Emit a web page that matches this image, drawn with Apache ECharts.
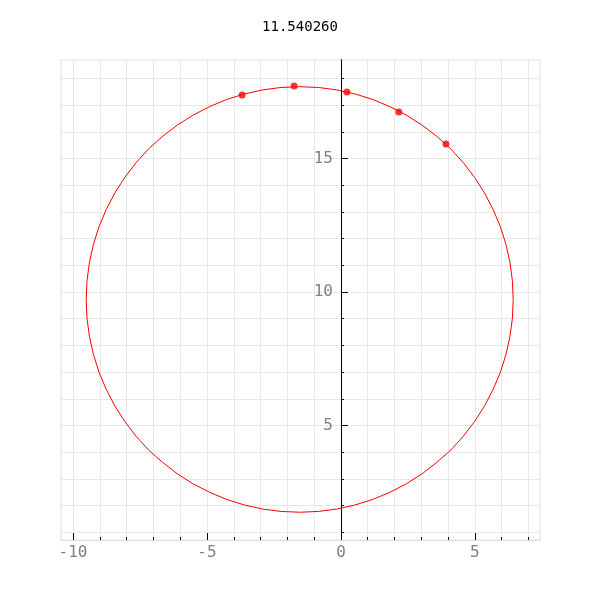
<!DOCTYPE html>
<html>
<head>
<meta charset="utf-8">
<script src="https://cdn.jsdelivr.net/npm/echarts@6/dist/echarts.min.js"></script>
<style>html,body{margin:0;padding:0;background:#fff}#c{width:600px;height:600px}</style>
</head>
<body>
<div id="c"></div>
<script>
// Data
var titleText = '11.540260';
var curveX = [6.43, 6.40, 6.31, 6.16, 5.95, 5.68, 5.36, 4.99, 4.57, 4.10, 3.58, 3.03, 2.45, 1.83, 1.19, 0.52, -0.16, -0.84, -1.54, -2.24, -2.92, -3.60, -4.27, -4.91, -5.53, -6.11, -6.66, -7.18, -7.65, -8.07, -8.44, -8.76, -9.03, -9.24, -9.39, -9.48, -9.51, -9.48, -9.39, -9.24, -9.03, -8.76, -8.44, -8.07, -7.65, -7.18, -6.66, -6.11, -5.53, -4.91, -4.27, -3.60, -2.92, -2.24, -1.54, -0.84, -0.16, 0.52, 1.19, 1.83, 2.45, 3.03, 3.58, 4.10, 4.57, 4.99, 5.36, 5.68, 5.95, 6.16, 6.31, 6.40, 6.43];
var curveY = [9.72, 10.42, 11.10, 11.78, 12.45, 13.09, 13.71, 14.29, 14.84, 15.36, 15.83, 16.25, 16.62, 16.94, 17.21, 17.42, 17.57, 17.66, 17.69, 17.66, 17.57, 17.42, 17.21, 16.94, 16.62, 16.25, 15.83, 15.36, 14.84, 14.29, 13.71, 13.09, 12.45, 11.78, 11.10, 10.42, 9.72, 9.02, 8.34, 7.66, 6.99, 6.35, 5.73, 5.15, 4.60, 4.08, 3.62, 3.19, 2.82, 2.50, 2.23, 2.02, 1.87, 1.78, 1.75, 1.78, 1.87, 2.02, 2.23, 2.50, 2.82, 3.19, 3.62, 4.08, 4.60, 5.15, 5.73, 6.35, 6.99, 7.66, 8.34, 9.02, 9.72];
var dotX = [-3.69, -1.75, 0.22, 2.16, 3.92];
var dotY = [17.38, 17.72, 17.49, 16.74, 15.54];
var xMajorTicks = [-10, -5, 0, 5];
var xMinorTicks = [-10, -9, -8, -7, -6, -5, -4, -3, -2, -1, 0, 1, 2, 3, 4, 5, 6, 7];
var yMajorTicks = [5, 10, 15];
var yMinorTicks = [1, 2, 3, 4, 5, 6, 7, 8, 9, 10, 11, 12, 13, 14, 15, 16, 17, 18];
var xRange = [-10.45, 7.43];
var yRange = [0.71, 18.69];

var curve = curveX.map(function (x, i) { return [x, curveY[i]]; });
var dots = dotX.map(function (x, i) { return [x, dotY[i]]; });

var mono = 'DejaVu Sans Mono';
var gridColor = '#e8e8e8';
var gridLeft = 61;

function yAxisDef(major, offset) {
  return {
    type: 'value', min: yRange[0], max: yRange[1], position: 'left', offset: offset,
    axisLine: {show: true, onZero: false, lineStyle: {color: '#000'}},
    axisTick: {show: true, inside: true, length: major ? 7 : 3, customValues: major ? yMajorTicks : yMinorTicks, lineStyle: {color: '#000'}},
    axisLabel: major ? {show: true, customValues: yMajorTicks, color: '#808080', fontFamily: mono, fontSize: 16, margin: 8} : {show: false},
    splitLine: major ? {show: false} : {show: true, lineStyle: {color: gridColor, width: 1}}
  };
}

var chart = echarts.init(document.getElementById('c'), null, {renderer: 'canvas'});
chart.setOption({
  animation: false,
  backgroundColor: '#ffffff',
  title: {
    text: titleText, left: 'center', top: 15,
    textStyle: {fontFamily: mono, fontSize: 14, fontWeight: 'normal', color: '#000'}
  },
  grid: {left: gridLeft, right: 60, top: 60, bottom: 60, show: true, borderColor: '#e0e0e0', borderWidth: 1, containLabel: false},
  xAxis: [
    {
      type: 'value', min: xRange[0], max: xRange[1], position: 'bottom',
      axisLine: {show: true, onZero: false, lineStyle: {color: '#e0e0e0'}},
      axisTick: {show: true, inside: true, length: 7, customValues: xMajorTicks, lineStyle: {color: '#000'}},
      axisLabel: {show: true, customValues: xMajorTicks, color: '#808080', fontFamily: mono, fontSize: 16, margin: 5},
      splitLine: {show: false}
    },
    {
      type: 'value', min: xRange[0], max: xRange[1], position: 'bottom',
      axisLine: {show: true, onZero: false, lineStyle: {color: '#e0e0e0'}},
      axisTick: {show: true, inside: true, length: 3, customValues: xMinorTicks, lineStyle: {color: '#000'}},
      axisLabel: {show: false},
      splitLine: {show: true, lineStyle: {color: gridColor, width: 1}}
    }
  ],
  yAxis: [yAxisDef(true, 0), yAxisDef(false, 0)],
  series: [
    {
      type: 'line', xAxisIndex: 0, yAxisIndex: 0, data: curve,
      showSymbol: false, smooth: false, lineStyle: {color: '#ff0000', width: 1}, z: 3
    },
    {
      type: 'scatter', xAxisIndex: 0, yAxisIndex: 0, data: dots,
      symbol: 'circle', symbolSize: 7, itemStyle: {color: '#ff0000'}, z: 4
    }
  ]
});
// Place the y axis on x = 0 using the library's own x scale
var px0 = chart.convertToPixel({xAxisIndex: 0}, 0);
var off = -(px0 - gridLeft);
chart.setOption({yAxis: [yAxisDef(true, off), yAxisDef(false, off)]});
</script>
</body>
</html>
